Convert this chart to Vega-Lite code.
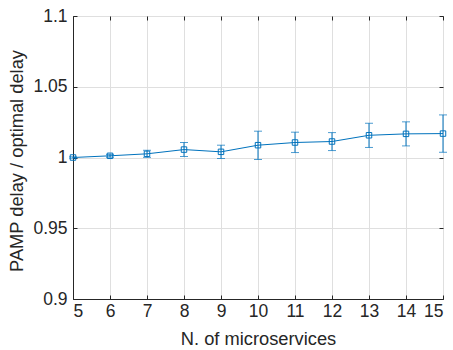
{
  "$schema": "https://vega.github.io/schema/vega-lite/v6.json",
  "width": 370,
  "height": 283,
  "autosize": {"type": "none"},
  "padding": {"left": 73, "top": 16, "right": 10, "bottom": 51},
  "background": "white",
  "config": {
    "view": {"stroke": "#262626", "strokeWidth": 1},
    "axis": {
      "labelFont": "Liberation Sans",
      "titleFont": "Liberation Sans",
      "labelFontSize": 17.5,
      "titleFontSize": 18.3,
      "titleFontWeight": "normal",
      "labelColor": "#262626",
      "titleColor": "#262626",
      "domainColor": "#262626",
      "tickColor": "#262626",
      "gridColor": "#dfdfdf",
      "gridWidth": 1,
      "tickSize": -4
    }
  },
  "resolve": {"axis": {"x": "independent", "y": "independent"}},
  "data": {
    "values": [
      {"n": 5, "ratio": 1.0000, "lo": 0.9995, "hi": 1.0005},
      {"n": 6, "ratio": 1.0012, "lo": 1.0002, "hi": 1.0022},
      {"n": 7, "ratio": 1.0026, "lo": 1.0001, "hi": 1.0051},
      {"n": 8, "ratio": 1.0056, "lo": 1.0007, "hi": 1.0106},
      {"n": 9, "ratio": 1.0040, "lo": 0.9993, "hi": 1.0087},
      {"n": 10, "ratio": 1.0087, "lo": 0.9986, "hi": 1.0186},
      {"n": 11, "ratio": 1.0106, "lo": 1.0035, "hi": 1.0179},
      {"n": 12, "ratio": 1.0113, "lo": 1.0049, "hi": 1.0176},
      {"n": 13, "ratio": 1.0157, "lo": 1.0071, "hi": 1.0242},
      {"n": 14, "ratio": 1.0167, "lo": 1.0082, "hi": 1.0252},
      {"n": 15, "ratio": 1.0169, "lo": 1.0037, "hi": 1.0301}
    ]
  },
  "layer": [
    {
      "mark": {"type": "rule", "color": "#0072BD", "strokeWidth": 1},
      "encoding": {
        "x": {
          "field": "n", "type": "quantitative",
          "scale": {"domain": [5, 15], "nice": false, "zero": false},
          "axis": {
            "values": [5, 6, 7, 8, 9, 10, 11, 12, 13, 14, 15],
            "title": "N. of microservices",
            "labelPadding": 7,
            "titleY": 40,
            "titleBaseline": "middle",
            "format": "d"
          }
        },
        "y": {
          "field": "lo", "type": "quantitative",
          "scale": {"domain": [0.9, 1.1], "nice": false, "zero": false},
          "axis": {
            "values": [0.9, 0.95, 1, 1.05, 1.1],
            "format": "~g",
            "title": "PAMP delay / optimal delay",
            "labelPadding": 10,
            "titleX": -56,
            "titleY": 144.5,
            "titleAngle": -90,
            "titleAlign": "center",
            "titleBaseline": "middle"
          }
        },
        "y2": {"field": "hi"}
      }
    },
    {
      "mark": {"type": "tick", "orient": "horizontal", "color": "#0072BD", "size": 8, "thickness": 1},
      "encoding": {
        "x": {"field": "n", "type": "quantitative", "axis": null},
        "y": {"field": "lo", "type": "quantitative", "axis": null}
      }
    },
    {
      "mark": {"type": "tick", "orient": "horizontal", "color": "#0072BD", "size": 8, "thickness": 1},
      "encoding": {
        "x": {"field": "n", "type": "quantitative", "axis": null},
        "y": {"field": "hi", "type": "quantitative", "axis": null}
      }
    },
    {
      "mark": {"type": "line", "color": "#0072BD", "strokeWidth": 1},
      "encoding": {
        "x": {"field": "n", "type": "quantitative", "axis": null},
        "y": {"field": "ratio", "type": "quantitative", "axis": null}
      }
    },
    {
      "mark": {"type": "point", "shape": "square", "filled": false, "color": "#0072BD", "size": 30, "strokeWidth": 1, "opacity": 1},
      "encoding": {
        "x": {
          "field": "n", "type": "quantitative",
          "axis": {"orient": "top", "values": [5, 6, 7, 8, 9, 10, 11, 12, 13, 14, 15], "labels": false, "title": null, "grid": false, "domain": false}
        },
        "y": {
          "field": "ratio", "type": "quantitative",
          "axis": {"orient": "right", "values": [0.9, 0.95, 1, 1.05, 1.1], "labels": false, "title": null, "grid": false, "domain": false}
        }
      }
    }
  ]
}
